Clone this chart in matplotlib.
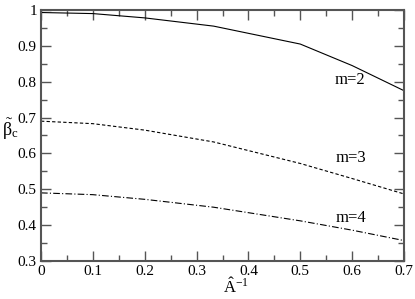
import matplotlib
matplotlib.use("Agg")
import matplotlib.pyplot as plt
from matplotlib.ticker import MultipleLocator

plt.rcParams['font.family'] = ['Liberation Serif', 'DejaVu Serif']
plt.rcParams['mathtext.fontset'] = 'custom'
plt.rcParams['mathtext.rm'] = 'Liberation Serif'
plt.rcParams['mathtext.it'] = 'Liberation Serif'

# inverse A values
x = [0.0, 0.1, 0.2, 0.333, 0.5, 0.6, 0.7]
m2 = [0.993, 0.99, 0.978, 0.955, 0.905, 0.845, 0.775]
m3 = [0.690, 0.683, 0.665, 0.632, 0.572, 0.530, 0.487]
m4 = [0.490, 0.485, 0.472, 0.450, 0.412, 0.386, 0.357]

xticks = [0, 0.1, 0.2, 0.3, 0.4, 0.5, 0.6, 0.7]
xlabels = ['0', '0.1', '0.2', '0.3', '0.4', '0.5', '0.6', '0.7']
yticks = [0.3, 0.4, 0.5, 0.6, 0.7, 0.8, 0.9, 1.0]
ylabels = ['0.3', '0.4', '0.5', '0.6', '0.7', '0.8', '0.9', '1']

fig = plt.figure(figsize=(4.15, 2.99), dpi=100)
ax = fig.add_axes([41 / 415, 1 - 261 / 299, 363 / 415, 251 / 299])

ax.plot(x, m2, color='black', lw=0.8, ls='-')
ax.plot(x, m3, color='black', lw=0.8, ls=(0, (3, 2)))
ax.plot(x, m4, color='black', lw=0.8, ls=(0, (6, 2, 1, 2)))

ax.text(0.596, 0.805, 'm=2', ha='center', va='center', fontsize=12)
ax.text(0.598, 0.588, 'm=3', ha='center', va='center', fontsize=12)
ax.text(0.598, 0.42, 'm=4', ha='center', va='center', fontsize=12)

ax.set_xlim(0, 0.7)
ax.set_ylim(0.3, 1.0)
ax.set_xticks(xticks)
ax.set_xticklabels(xlabels)
ax.set_yticks(yticks)
ax.set_yticklabels(ylabels)
ax.xaxis.set_minor_locator(MultipleLocator(0.05))
ax.yaxis.set_minor_locator(MultipleLocator(0.05))

ax.tick_params(which='both', direction='in', top=True, right=True, labelsize=11, pad=3)
ax.tick_params(which='major', length=7, width=1, color='#555555')
ax.tick_params(which='minor', length=4, width=1, color='#555555')
for s in ax.spines.values():
    s.set_linewidth(1.5)
    s.set_color('#555555')

fig.text(236 / 415, 2 / 299, r'$\hat{\mathrm{A}}^{-1}$', ha='center', va='bottom', fontsize=12)
fig.text(10 / 415, 1 - 129 / 299, r'$\tilde{\beta}_{\mathrm{c}}$', ha='center', va='center', fontsize=13)

fig.savefig('out.png', dpi=100)
